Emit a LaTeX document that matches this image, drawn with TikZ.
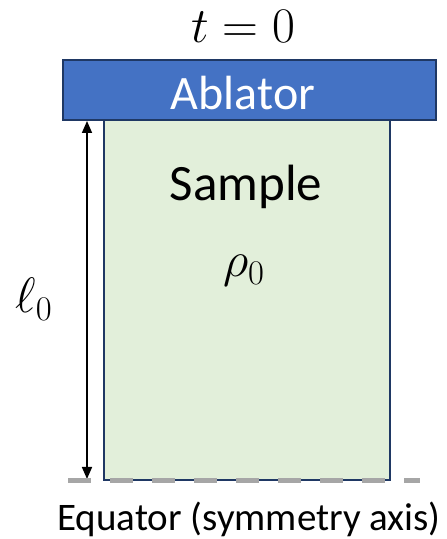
\documentclass[tikz,border=0pt]{standalone}
\usepackage{amsmath}
\usepackage[no-math]{fontspec}
\setmainfont{Carlito}
\usepackage{tikz}
\usetikzlibrary{arrows.meta,positioning}
\definecolor{AblBlue}{HTML}{4472C4}
\definecolor{Navy}{HTML}{1F3864}
\definecolor{SampleGreen}{HTML}{E2EFDA}
\definecolor{AxisGray}{HTML}{A6A6A6}

\begin{document}
\begin{tikzpicture}[x=0.5pt,y=0.5pt]
\useasboundingbox (0,0) rectangle (446,539);
\fill[white] (0,0) rectangle (446,539);
\draw[Navy,line width=1pt,fill=SampleGreen] (104,59) rectangle (390,419);
\draw[Navy,line width=1pt,fill=AblBlue] (63,419) rectangle (436,479);
\node[text=white,font=\fontsize{24}{28}\selectfont] (ablator) at (243,446) {Ablator};
\node[font=\fontsize{25.5}{30}\selectfont] (sample) at (246,352) {Sample};
\node[font=\fontsize{24}{28}\selectfont] (rho) at (244,268) {$\rho_0$};
\node[font=\fontsize{23}{28}\selectfont] (time) at (243,513) {$t=0$};
\node[font=\fontsize{24}{28}\selectfont] (len) at (34,240) {$\ell_0$};
\coordinate (ltop) at (87,418);
\coordinate (lbot) at (87,60);
\draw[line width=0.8pt,{Triangle[length=6pt,width=5pt]}-{Triangle[length=6pt,width=5pt]}] (ltop) -- (lbot);
\draw[AxisGray,line width=2.5pt,dash pattern=on 11.5pt off 9.5pt] (68,58) -- (420,58);
\node[font=\fontsize{19.5}{23}\selectfont] (axis) at (249,20) {Equator (symmetry axis)};
\end{tikzpicture}
\end{document}
